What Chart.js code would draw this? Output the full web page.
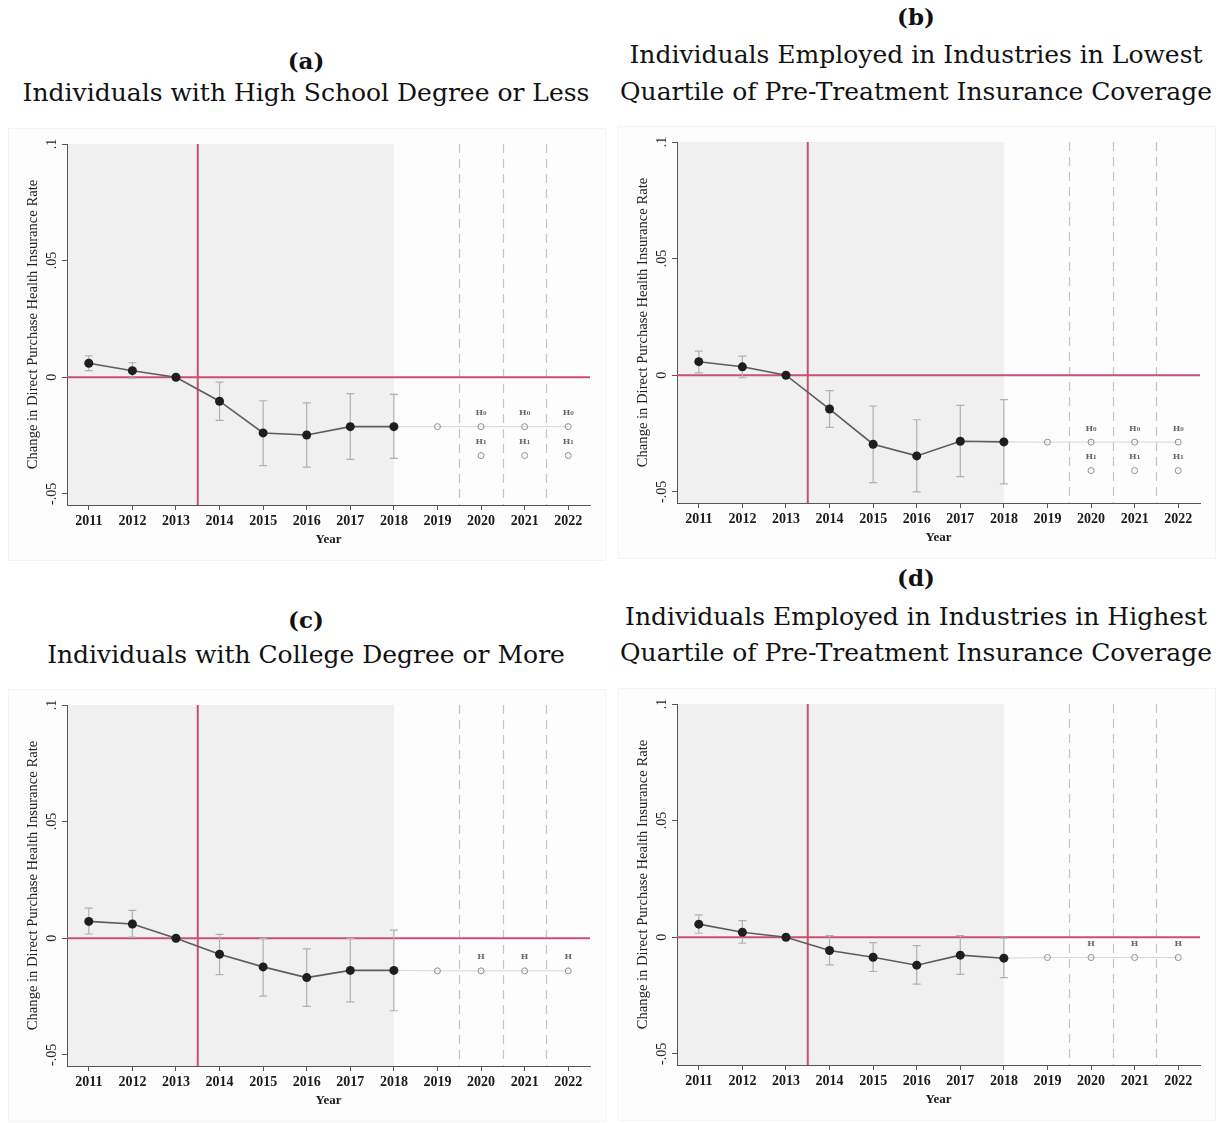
<!DOCTYPE html>
<html>
<head>
<meta charset="utf-8">
<script src="https://cdn.jsdelivr.net/npm/chart.js@4.4.1/dist/chart.umd.min.js"></script>
<style>
  body { margin: 0; background: #fff; width: 1225px; height: 1123px; position: relative; overflow: hidden; }
  .t { position: absolute; text-align: center; font-family: "DejaVu Serif", serif; font-size: 25px; line-height: 30px; height: 30px; color: #111; white-space: nowrap; }
  .t.b { font-weight: bold; font-size: 23px; }
  canvas { position: absolute; }
</style>
</head>
<body>
<div class="t b" style="left:0;width:612px;top:46px">(a)</div>
<div class="t" style="left:0;width:612px;top:78px">Individuals with High School Degree or Less</div>
<div class="t b" style="left:610px;width:612px;top:2px">(b)</div>
<div class="t" style="left:610px;width:612px;top:40px">Individuals Employed in Industries in Lowest</div>
<div class="t" style="left:610px;width:612px;top:77px">Quartile of Pre-Treatment Insurance Coverage</div>
<div class="t b" style="left:0;width:612px;top:605px">(c)</div>
<div class="t" style="left:0;width:612px;top:640px">Individuals with College Degree or More</div>
<div class="t b" style="left:610px;width:612px;top:563px">(d)</div>
<div class="t" style="left:610px;width:612px;top:602px">Individuals Employed in Industries in Highest</div>
<div class="t" style="left:610px;width:612px;top:638px">Quartile of Pre-Treatment Insurance Coverage</div>

<canvas id="pa" width="598" height="433" style="left:8px;top:128px"></canvas>
<canvas id="pb" width="598" height="433" style="left:618px;top:126px"></canvas>
<canvas id="pc" width="598" height="433" style="left:8px;top:689px"></canvas>
<canvas id="pd" width="598" height="433" style="left:618px;top:688px"></canvas>

<script>
// years on the axis, observed years, projected years
const years = [2011, 2012, 2013, 2014, 2015, 2016, 2017, 2018, 2019, 2020, 2021, 2022];
const obsYears = [2011, 2012, 2013, 2014, 2015, 2016, 2017, 2018];
const h0Years = [2019, 2020, 2021, 2022];
const h1Years = [2020, 2021, 2022];
const yTicks = [0.1, 0.05, 0, -0.05];
const yTickLabels = ['.1', '.05', '0', '-.05'];

// (a) high school or less
const aEst = [0.0060, 0.0028, 0, -0.0103, -0.0239, -0.0248, -0.0212, -0.0212];
const aLo  = [0.0028, -0.0004, null, -0.0185, -0.0379, -0.0386, -0.0352, -0.0348];
const aHi  = [0.0092, 0.0062, null, -0.0021, -0.0101, -0.0110, -0.0070, -0.0074];
const aH0  = [-0.0212, -0.0212, -0.0212, -0.0212];
const aH1  = [-0.0336, -0.0336, -0.0336];

// (b) lowest quartile of coverage
const bEst = [0.0058, 0.0036, 0, -0.0145, -0.0296, -0.0346, -0.0283, -0.0286];
const bLo  = [0.0010, -0.0011, null, -0.0224, -0.0461, -0.0500, -0.0435, -0.0466];
const bHi  = [0.0103, 0.0082, null, -0.0066, -0.0132, -0.0191, -0.0129, -0.0105];
const bH0  = [-0.0287, -0.0287, -0.0287, -0.0287];
const bH1  = [-0.0409, -0.0409, -0.0409];

// (c) college or more
const cEst = [0.0072, 0.0061, 0, -0.0069, -0.0123, -0.0169, -0.0138, -0.0138];
const cLo  = [0.0018, 0.0005, null, -0.0156, -0.0248, -0.0292, -0.0273, -0.0311];
const cHi  = [0.0129, 0.0119, null, 0.0016, -0.0002, -0.0046, -0.0002, 0.0035];
const cH0  = [-0.0140, -0.0140, -0.0140, -0.0140];

// (d) highest quartile of coverage
const dEst = [0.0056, 0.0021, 0, -0.0057, -0.0086, -0.0120, -0.0077, -0.0090];
const dLo  = [0.0017, -0.0026, null, -0.0119, -0.0147, -0.0201, -0.0159, -0.0173];
const dHi  = [0.0096, 0.0071, null, 0.0007, -0.0023, -0.0036, 0.0007, -0.0004];
const dH0  = [-0.0087, -0.0087, -0.0087, -0.0087];

const treatLine = 2013.5;
const shadeEnd = 2018;
const dashYears = [2019.5, 2020.5, 2021.5];
const yTitle = 'Change in Direct Purchase Health Insurance Rate';

const RED = '#c9506f';
const AXIS = '#555';

function panelPlugin(p) {
  return {
    id: 'panel_' + p.id,
    beforeDraw(chart) {
      const { ctx, chartArea: a, scales: { x } } = chart;
      ctx.save();
      ctx.fillStyle = '#fdfdfd';
      ctx.fillRect(0, 0, chart.width, chart.height);
      ctx.strokeStyle = '#f3f3f3';
      ctx.strokeRect(0.5, 0.5, chart.width - 1, chart.height - 1);
      ctx.fillStyle = '#f0f0f0';
      ctx.fillRect(a.left, a.top, x.getPixelForValue(shadeEnd) - a.left, a.bottom - a.top);
      ctx.restore();
    },
    beforeDatasetsDraw(chart) {
      const { ctx, chartArea: a, scales: { x, y } } = chart;
      ctx.save();
      // dashed separators
      ctx.strokeStyle = '#c4c4c4';
      ctx.lineWidth = 1.2;
      ctx.setLineDash([9, 6]);
      dashYears.forEach(v => {
        const px = Math.round(x.getPixelForValue(v)) + 0.5;
        ctx.beginPath(); ctx.moveTo(px, a.top); ctx.lineTo(px, a.bottom); ctx.stroke();
      });
      ctx.setLineDash([]);
      // reference lines
      ctx.strokeStyle = RED;
      ctx.lineWidth = 2;
      const y0 = y.getPixelForValue(0);
      ctx.beginPath(); ctx.moveTo(a.left, y0); ctx.lineTo(a.right, y0); ctx.stroke();
      const xt = x.getPixelForValue(treatLine);
      ctx.beginPath(); ctx.moveTo(xt, a.top); ctx.lineTo(xt, a.bottom); ctx.stroke();
      // error bars
      ctx.strokeStyle = '#b0b0b0';
      ctx.lineWidth = 1.2;
      obsYears.forEach((yr, i) => {
        if (p.lo[i] == null) return;
        const px = x.getPixelForValue(yr);
        const pl = y.getPixelForValue(p.lo[i]);
        const ph = y.getPixelForValue(p.hi[i]);
        ctx.beginPath();
        ctx.moveTo(px, pl); ctx.lineTo(px, ph);
        ctx.moveTo(px - 4, pl); ctx.lineTo(px + 4, pl);
        ctx.moveTo(px - 4, ph); ctx.lineTo(px + 4, ph);
        ctx.stroke();
      });
      ctx.restore();
    },
    afterDatasetsDraw(chart) {
      const { ctx, scales: { x, y } } = chart;
      ctx.save();
      ctx.fillStyle = '#666';
      ctx.font = 'bold 8px "DejaVu Serif"';
      ctx.textAlign = 'center';
      ctx.textBaseline = 'middle';
      h1Years.forEach((yr, i) => {
        const px = x.getPixelForValue(yr);
        if (p.h1) {
          ctx.fillText('H\u2080', px, y.getPixelForValue(p.h0[i + 1]) - 13.5);
          ctx.fillText('H\u2081', px, y.getPixelForValue(p.h1[i]) - 13.5);
        } else {
          ctx.fillText('H', px, y.getPixelForValue(p.h0[i + 1]) - 13.5);
        }
      });
      ctx.restore();
    },
    afterDraw(chart) {
      const { ctx, chartArea: a, scales: { y } } = chart;
      ctx.save();
      ctx.fillStyle = '#222';
      ctx.textAlign = 'center';
      ctx.textBaseline = 'middle';
      ctx.font = '14px "Liberation Serif"';
      yTicks.forEach((v, i) => {
        ctx.save();
        ctx.translate(a.left - 15, y.getPixelForValue(v));
        ctx.rotate(-Math.PI / 2);
        ctx.fillText(yTickLabels[i], 0, 0);
        ctx.restore();
      });
      ctx.font = '14.6px "Liberation Serif"';
      ctx.translate(a.left - 34, (a.top + a.bottom) / 2);
      ctx.rotate(-Math.PI / 2);
      ctx.fillText(yTitle, 0, 0);
      ctx.restore();
    }
  };
}

function makePanel(p) {
  const datasets = [
    {
      data: obsYears.map((v, i) => ({ x: v, y: p.est[i] })),
      borderColor: '#5c5c5c',
      borderWidth: 1.6,
      pointRadius: 4.5,
      pointBackgroundColor: '#1e1e1e',
      pointBorderColor: '#1e1e1e',
      pointBorderWidth: 0
    },
    {
      data: [{ x: shadeEnd, y: p.est[p.est.length - 1] }].concat(h0Years.map((v, i) => ({ x: v, y: p.h0[i] }))),
      borderColor: '#d6d6d6',
      borderWidth: 1,
      pointRadius: [0, 3, 3, 3, 3],
      pointBackgroundColor: 'rgba(255,255,255,0)',
      pointBorderColor: '#8f8f8f',
      pointBorderWidth: 1
    }
  ];
  if (p.h1) {
    datasets.push({
      data: h1Years.map((v, i) => ({ x: v, y: p.h1[i] })),
      showLine: false,
      pointRadius: 3,
      pointBackgroundColor: 'rgba(255,255,255,0)',
      pointBorderColor: '#8f8f8f',
      pointBorderWidth: 1
    });
  }
  return new Chart(document.getElementById(p.id), {
    type: 'line',
    data: { datasets },
    options: {
      responsive: false,
      animation: false,
      layout: { padding: { left: 12, right: 16, top: 16, bottom: 10 } },
      plugins: { legend: { display: false }, tooltip: { enabled: false } },
      scales: {
        x: {
          type: 'linear',
          min: 2010.5,
          max: 2022.5,
          afterBuildTicks: s => { s.ticks = years.map(v => ({ value: v })); },
          afterFit: s => { s.height = 46; },
          grid: { drawOnChartArea: false, tickLength: 5, color: AXIS },
          border: { color: AXIS, width: 1 },
          ticks: {
            autoSkip: false, maxRotation: 0, padding: 3,
            color: '#1a1a1a',
            font: { family: 'Liberation Serif', size: 14, weight: 'bold' },
            callback: v => String(v)
          },
          title: {
            display: true, text: 'Year', color: '#1a1a1a',
            font: { family: 'Liberation Serif', size: 13, weight: 'bold' },
            padding: { top: 0, bottom: 4 }
          }
        },
        y: {
          min: -0.0548,
          max: 0.1,
          afterBuildTicks: s => { s.ticks = yTicks.map(v => ({ value: v })); },
          afterFit: s => { s.width = 47; },
          grid: { drawOnChartArea: false, tickLength: 5, color: AXIS },
          border: { color: AXIS, width: 1 },
          ticks: { display: false }
        }
      }
    },
    plugins: [panelPlugin(p)]
  });
}

makePanel({ id: 'pa', est: aEst, lo: aLo, hi: aHi, h0: aH0, h1: aH1 });
makePanel({ id: 'pb', est: bEst, lo: bLo, hi: bHi, h0: bH0, h1: bH1 });
makePanel({ id: 'pc', est: cEst, lo: cLo, hi: cHi, h0: cH0, h1: null });
makePanel({ id: 'pd', est: dEst, lo: dLo, hi: dHi, h0: dH0, h1: null });
</script>
</body>
</html>
